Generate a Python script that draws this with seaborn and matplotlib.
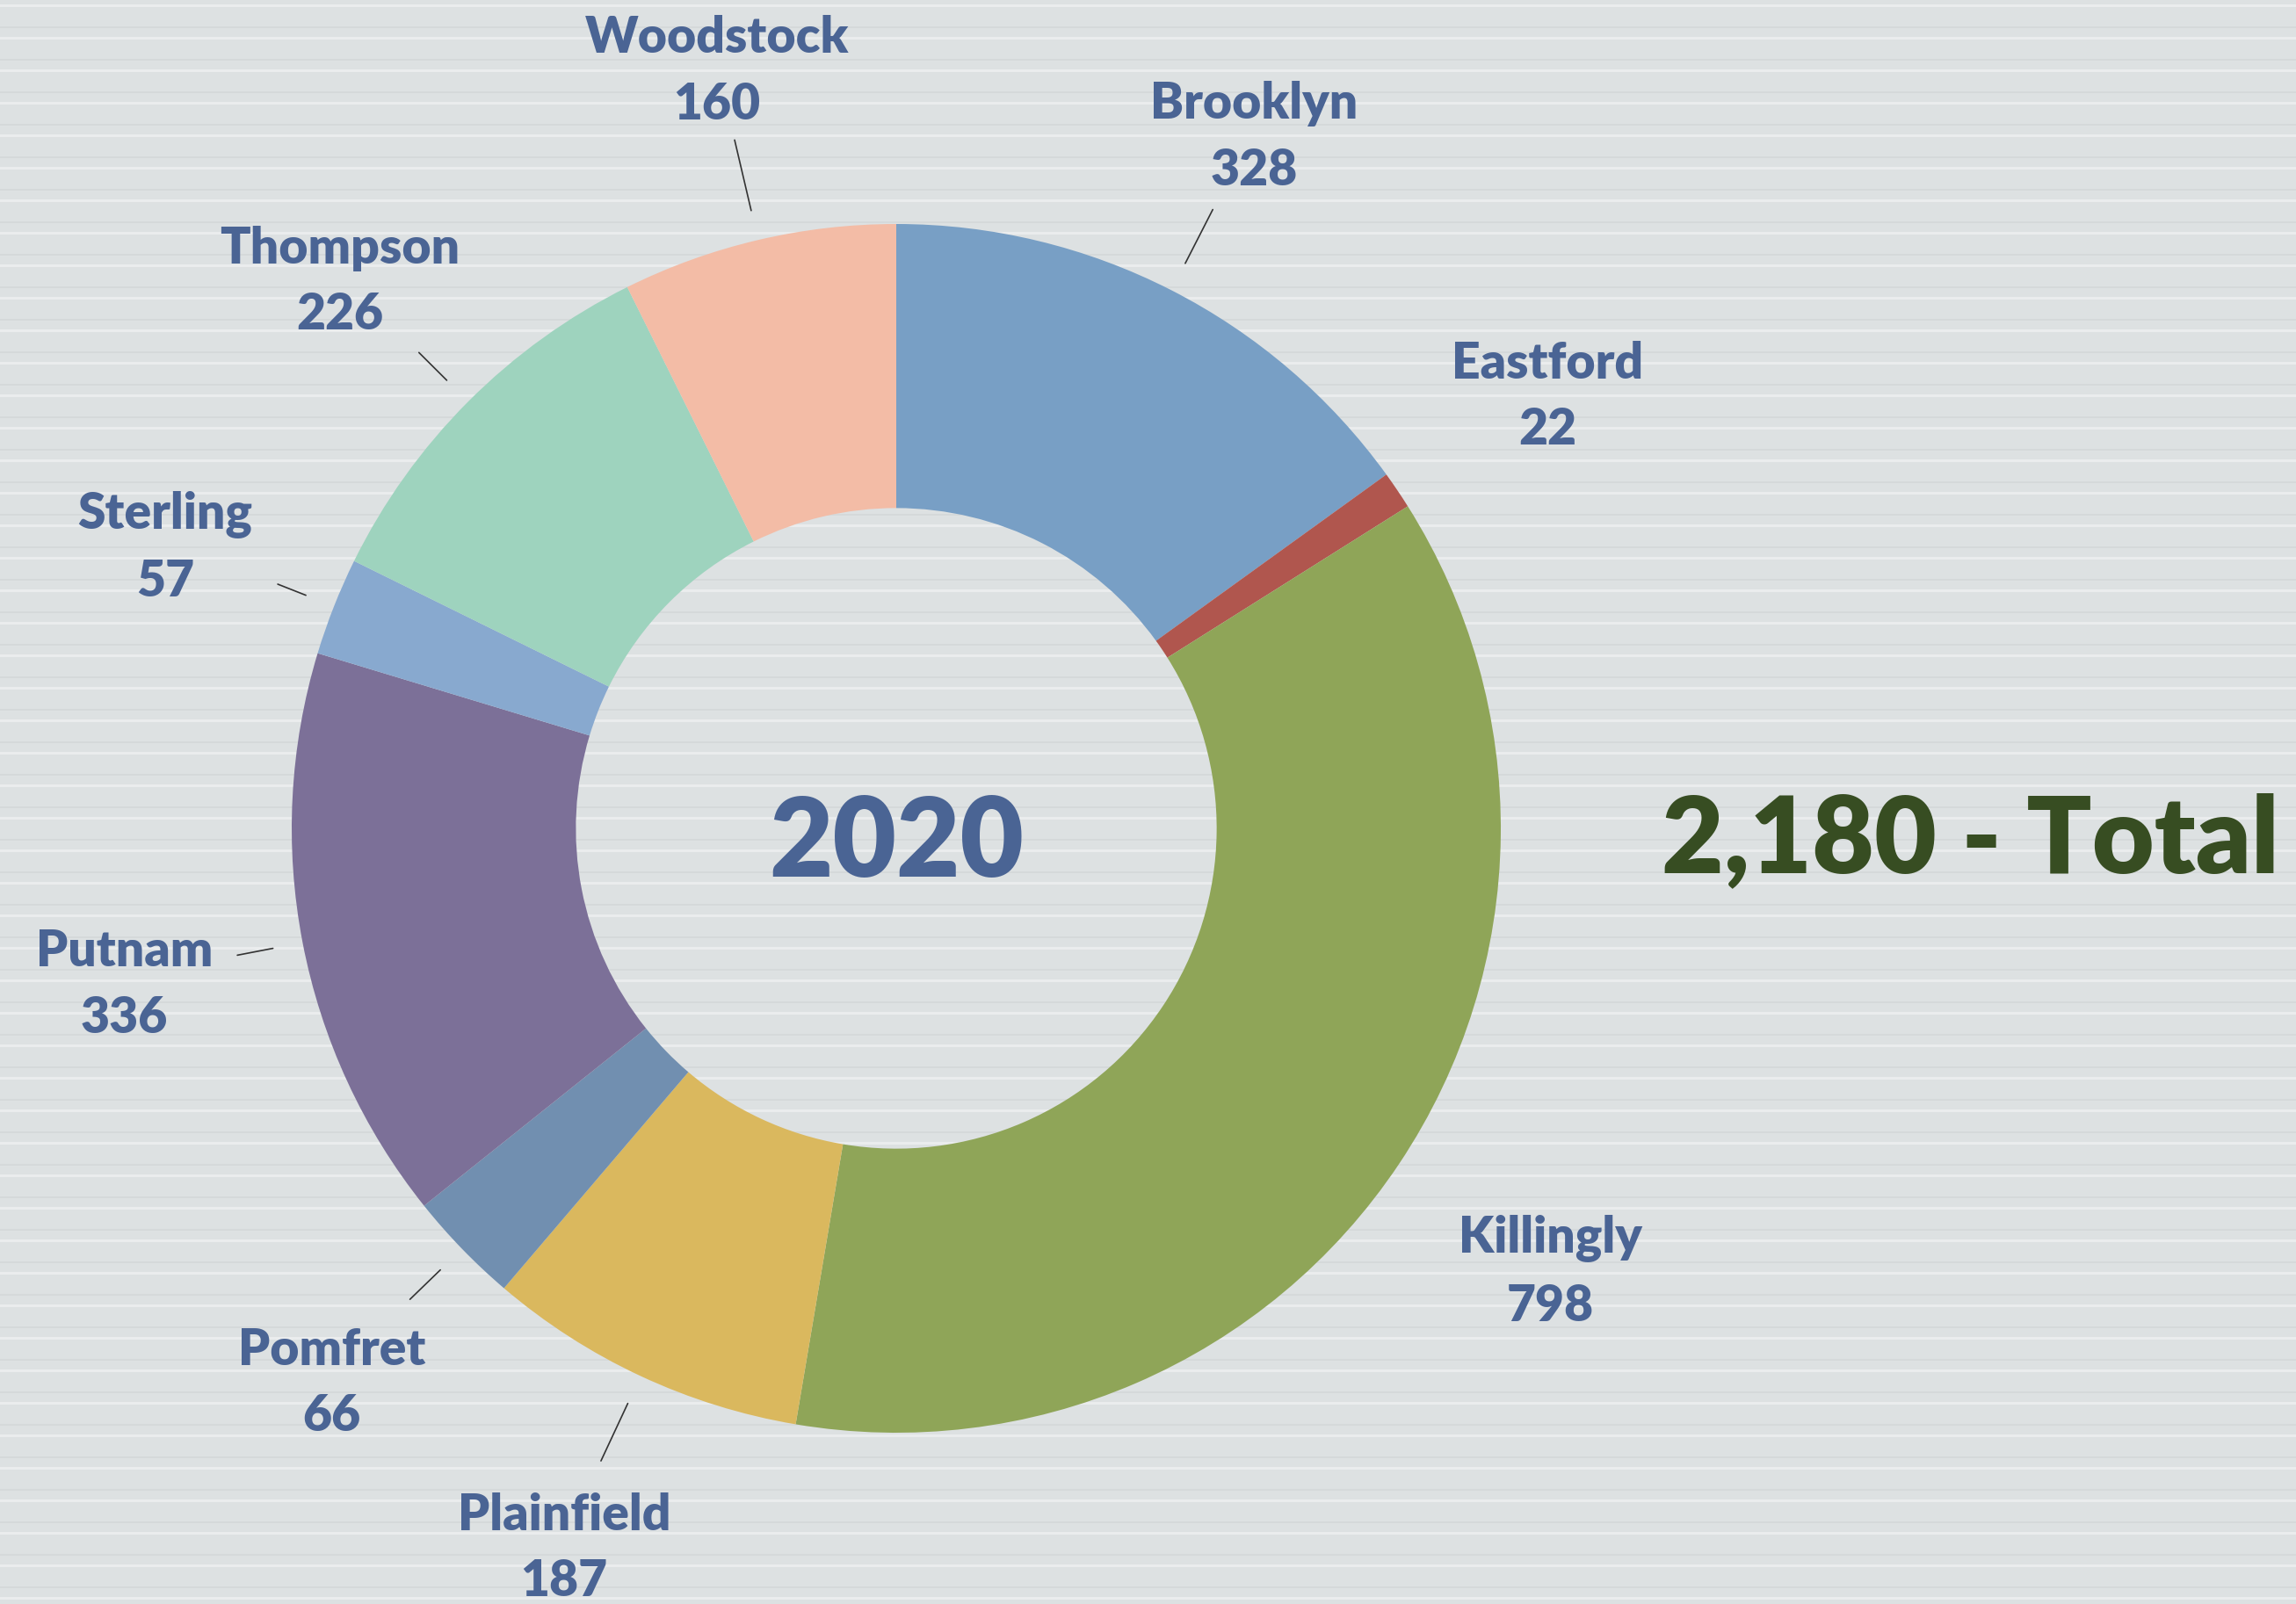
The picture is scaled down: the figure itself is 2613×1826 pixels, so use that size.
import numpy as np
import matplotlib
matplotlib.use("Agg")
import matplotlib.pyplot as plt
from matplotlib.transforms import offset_copy
import seaborn as sns

# Data
towns = ["Brooklyn", "Eastford", "Killingly", "Plainfield", "Pomfret",
         "Putnam", "Sterling", "Thompson", "Woodstock"]
counts = [328, 22, 798, 187, 66, 336, 57, 226, 160]
colors = ["#789FC5", "#B0564E", "#8FA558", "#DAB85E", "#718FB0",
          "#7C7098", "#88A9CF", "#9ED3BE", "#F3BCA6"]
year_label = "2020"
total_label = "2,180 - Total"

# leader line outer ends (radius), none for Eastford / Killingly
leader_end = {"Brooklyn": 1.15, "Plainfield": 1.155, "Pomfret": 1.12,
              "Putnam": 1.11, "Sterling": 1.10, "Thompson": 1.115,
              "Woodstock": 1.17}

sns.set_theme(style="white")
plt.rcParams['font.family'] = ['Lato', 'DejaVu Sans']

bg = "#DDE1E2"
fig = plt.figure(figsize=(26.13, 18.26), dpi=100, facecolor=bg)

# faint striped texture in the background
for yy in np.arange(0.004, 1.0, 37 / 1826):
    fig.add_artist(plt.Line2D([0, 1], [yy, yy], transform=fig.transFigure,
                              color="white", alpha=0.4, lw=2.2, zorder=0))
    fig.add_artist(plt.Line2D([0, 1], [yy + 12 / 1826, yy + 12 / 1826],
                              transform=fig.transFigure, color="#C9CDCE",
                              alpha=0.45, lw=1.2, zorder=0))

ax = fig.add_axes([0, 0, 1, 1])
ax.set_facecolor("none")

labels = [f"{t}\n{c}" for t, c in zip(towns, counts)]
wedges, texts = ax.pie(
    counts, colors=colors, startangle=90, counterclock=False,
    labels=labels, labeldistance=1.30,
    wedgeprops=dict(width=0.47, edgecolor="none"),
    textprops=dict(color="#4A6494", fontsize=41, fontweight="heavy",
                   ha="center", va="center", linespacing=1.55),
)
shift = offset_copy(ax.transData, fig=fig, y=-6.5, units="points")
for t in texts:
    t.set_transform(shift)

# leader lines
for w, t in zip(wedges, towns):
    if t not in leader_end:
        continue
    ang = np.deg2rad((w.theta1 + w.theta2) / 2)
    r = np.array([1.05, leader_end[t]])
    ax.plot(r * np.cos(ang), r * np.sin(ang), color="#333333", lw=1.2)

ax.text(0, -0.027, year_label, ha="center", va="center", fontsize=90,
        fontweight="heavy", color="#4A6494")
ax.text(1.776, -0.022, total_label, ha="center", va="center", fontsize=88,
        fontweight="heavy", color="#374D22")

ax.set_xlim(-1020 / 688, (2613 - 1020) / 688)
ax.set_ylim(-883 / 688, 943 / 688)
ax.set_aspect("equal")
ax.axis("off")

fig.savefig("out.png", dpi=100, facecolor=bg)
